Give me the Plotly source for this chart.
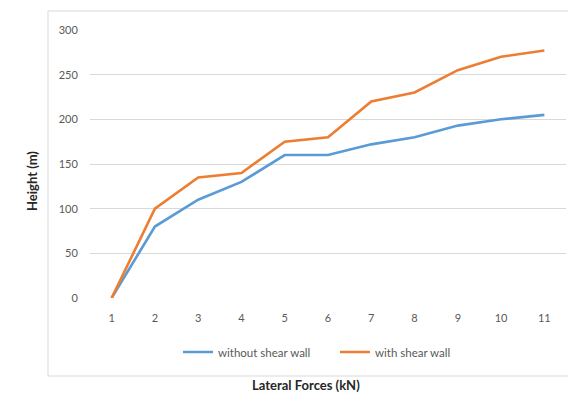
import plotly.graph_objects as go

# Load step and storey heights for the two frame models
forces = [1, 2, 3, 4, 5, 6, 7, 8, 9, 10, 11]
without_wall = [0, 80, 110, 130, 160, 160, 172, 180, 193, 200, 205]
with_wall = [0, 100, 135, 140, 175, 180, 220, 230, 255, 270, 277]
y_ticks = [0, 50, 100, 150, 200, 250, 300]

W, H = 568, 408
L, R, T, B = 90, 566, 30, 298  # plot-area pixel bounds


def px(x):
    return (x - L) / (R - L)


def py(y):
    return (B - y) / (B - T)


FONT = "Lato, Carlito, 'Liberation Sans', sans-serif"

fig = go.Figure()
fig.add_trace(go.Scatter(x=forces, y=without_wall, mode="lines", name="without shear wall",
                         line=dict(color="#5B9BD5", width=2.6), cliponaxis=False))
fig.add_trace(go.Scatter(x=forces, y=with_wall, mode="lines", name="with shear wall",
                         line=dict(color="#ED7D31", width=2.6), cliponaxis=False))

fig.update_layout(
    width=W, height=H,
    margin=dict(l=L, r=W - R, t=T, b=H - B),
    paper_bgcolor="white", plot_bgcolor="white",
    font=dict(family=FONT, color="#595959", size=11),
    showlegend=True,
    legend=dict(orientation="h", x=px(178), y=py(352), xanchor="left", yanchor="middle",
                font=dict(size=11.5, color="#595959"), itemwidth=30,
                entrywidth=112, entrywidthmode="pixels",
                bgcolor="rgba(0,0,0,0)", tracegroupgap=0),
    xaxis=dict(range=[0.5, 11.5], tickmode="array", tickvals=forces,
               ticktext=[str(v) for v in forces], showgrid=False, zeroline=False,
               showline=False, ticks="outside", ticklen=10, tickcolor="white",
               tickfont=dict(size=11, color="#595959"), fixedrange=True),
    yaxis=dict(range=[0, 300], tickmode="array", tickvals=y_ticks, showgrid=True,
               gridcolor="#D9D9D9", gridwidth=1, zeroline=False, showline=False,
               ticks="outside", ticklen=9, tickcolor="white",
               tickfont=dict(size=11, color="#595959"), fixedrange=True),
)

# outer chart frame
fig.add_shape(type="rect", xref="paper", yref="paper",
              x0=px(48), x1=px(580), y0=py(376), y1=py(11),
              line=dict(color="#D9D9D9", width=1), fillcolor="rgba(0,0,0,0)", layer="below")

# axis titles sit outside the frame
fig.add_annotation(text="<b>Height (m)</b>", xref="paper", yref="paper",
                   x=px(22), y=py(213), textangle=-90, showarrow=False,
                   font=dict(size=13, color="#262626", family=FONT))
fig.add_annotation(text="<b>Lateral Forces (kN)</b>", xref="paper", yref="paper",
                   x=px(306), y=py(395), showarrow=False,
                   font=dict(size=13, color="#262626", family=FONT))

fig.write_html("out.html")
